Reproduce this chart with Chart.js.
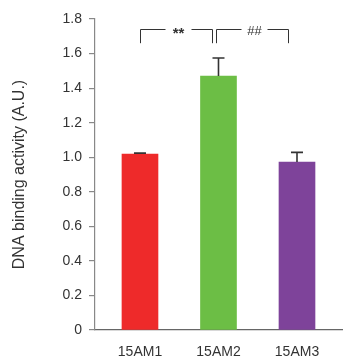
<!DOCTYPE html>
<html>
<head>
<meta charset="utf-8">
<script src="https://cdn.jsdelivr.net/npm/chart.js@4/dist/chart.umd.min.js"></script>
<style>
  body { margin: 0; background: #fff; }
  #wrap { width: 343px; height: 360px; position: relative; }
</style>
</head>
<body>
<div id="wrap"><canvas id="chart"></canvas></div>
<script>
// data
const categories = ['15AM1', '15AM2', '15AM3'];
const activity = [1.018, 1.47, 0.972];
const errorUp = [0.006, 0.104, 0.056];
const barColors = ['#EE2A2A', '#6CBE45', '#7E439A'];
const yTicks = [0, 0.2, 0.4, 0.6, 0.8, 1.0, 1.2, 1.4, 1.6, 1.8];

// significance brackets (x in category units, y in data units)
const sigFrom = [0, 0.97];
const sigTo = [0.92, 1.89];
const sigLabels = ['**', '##'];
const sigTop = 1.742;
const sigFoot = 1.66;

const FONT = "'Liberation Sans', Arial, sans-serif";
const INK = '#333';

// error bars + brackets drawn on top of the bars
const annotations = {
    id: 'annotations',
    afterDatasetsDraw(chart) {
        const ctx = chart.ctx;
        const x = chart.scales.x;
        const y = chart.scales.y;
        ctx.save();

        // error bars (upper only)
        ctx.strokeStyle = INK;
        ctx.lineWidth = 1.6;
        activity.forEach((v, i) => {
            const cx = x.getPixelForValue(i);
            const y0 = y.getPixelForValue(v);
            const y1 = y.getPixelForValue(v + errorUp[i]);
            ctx.beginPath();
            ctx.moveTo(cx, y0);
            ctx.lineTo(cx, y1);
            ctx.moveTo(cx - 6, y1);
            ctx.lineTo(cx + 6, y1);
            ctx.stroke();
        });

        // brackets
        ctx.lineWidth = 1;
        ctx.fillStyle = INK;
        ctx.textAlign = 'center';
        ctx.textBaseline = 'alphabetic';
        const yt = Math.round(y.getPixelForValue(sigTop)) + 0.5;
        const yf = y.getPixelForValue(sigFoot);
        sigLabels.forEach((lab, i) => {
            const xa = Math.round(x.getPixelForValue(sigFrom[i])) + 0.5;
            const xb = Math.round(x.getPixelForValue(sigTo[i])) + 0.5;
            const mid = (xa + xb) / 2 + 2;
            const gap = 13;
            ctx.beginPath();
            ctx.moveTo(xa, yf);
            ctx.lineTo(xa, yt);
            ctx.lineTo(mid - gap, yt);
            ctx.moveTo(mid + gap, yt);
            ctx.lineTo(xb, yt);
            ctx.lineTo(xb, yf);
            ctx.stroke();
            if (lab === '**') {
                ctx.font = 'bold 15px ' + FONT;
                ctx.fillText(lab, mid, yt + 8);
            } else {
                ctx.font = '13px ' + FONT;
                ctx.fillText(lab, mid, yt + 5.5);
            }
        });
        ctx.restore();
    }
};

new Chart(document.getElementById('chart'), {
    type: 'bar',
    data: {
        datasets: [{
            data: activity.map((v, i) => ({ x: i, y: v })),
            backgroundColor: barColors,
            borderWidth: 0,
            barThickness: 36
        }]
    },
    options: {
        responsive: true,
        maintainAspectRatio: false,
        animation: false,
        layout: { padding: { top: 19, right: 0, left: 0, bottom: 0 } },
        plugins: {
            legend: { display: false },
            tooltip: { enabled: false }
        },
        scales: {
            x: {
                type: 'linear',
                offset: false,
                min: -0.573,
                max: 2.586,
                afterBuildTicks(scale) {
                    scale.ticks = categories.map((c, i) => ({ value: i }));
                },
                afterFit(scale) { scale.height = 30; },
                ticks: {
                    callback: (v) => categories[v],
                    color: INK,
                    font: { family: FONT, size: 14 },
                    padding: 14,
                    maxRotation: 0,
                    autoSkip: false
                },
                grid: { display: false, drawTicks: false, offset: false },
                border: { display: true, color: '#666', width: 1.2 }
            },
            y: {
                min: 0,
                max: 1.8,
                afterBuildTicks(scale) {
                    scale.ticks = yTicks.map(v => ({ value: v }));
                },
                afterFit(scale) { scale.width = 95; },
                ticks: {
                    callback: (v) => v === 0 ? '0' : v.toFixed(1),
                    color: INK,
                    font: { family: FONT, size: 14 },
                    padding: 7
                },
                grid: {
                    drawOnChartArea: false,
                    drawTicks: true,
                    tickLength: 6,
                    color: '#888',
                    lineWidth: 1.2
                },
                border: { display: true, color: '#888', width: 1.2 },
                title: {
                    display: true,
                    text: 'DNA binding activity (A.U.)',
                    color: INK,
                    font: { family: FONT, size: 16 },
                    padding: { top: 10, bottom: 0 }
                }
            }
        }
    },
    plugins: [annotations]
});
</script>
</body>
</html>
